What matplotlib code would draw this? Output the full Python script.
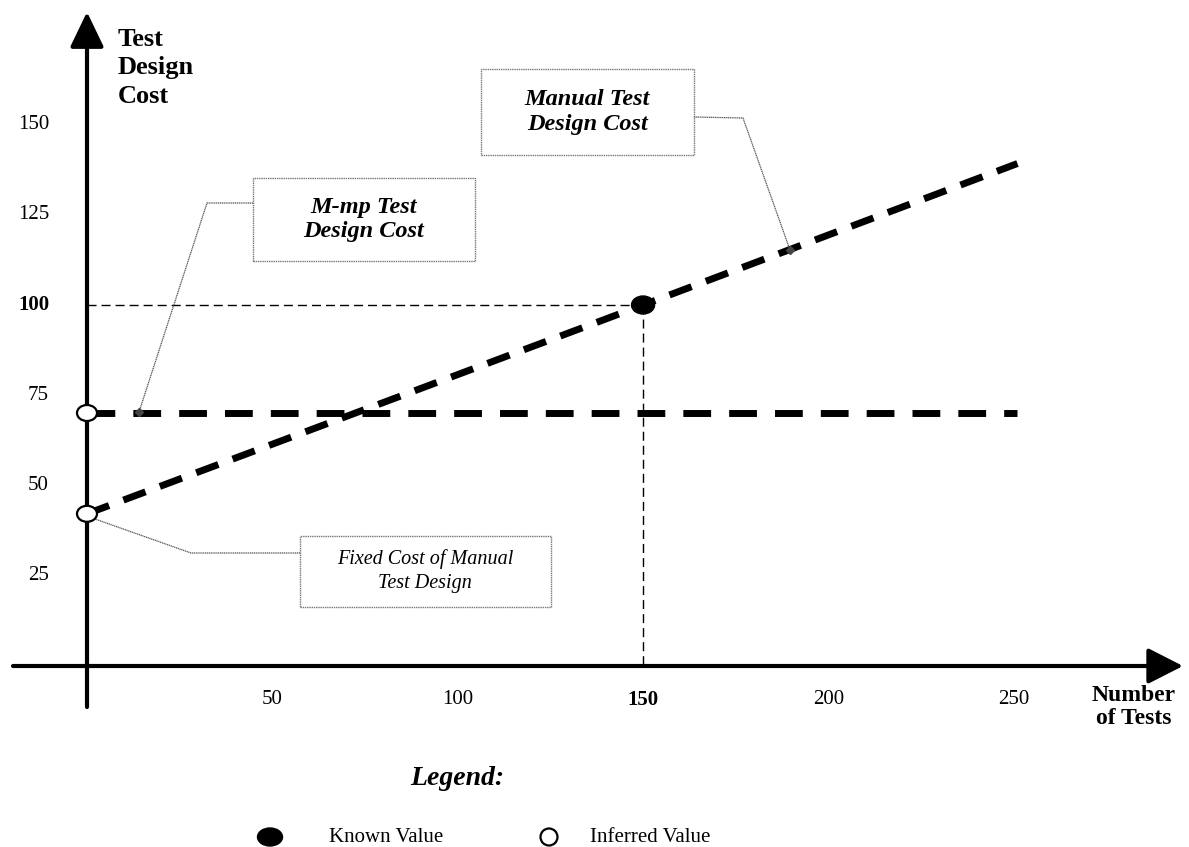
import matplotlib.pyplot as plt
from matplotlib.patches import Ellipse, Rectangle

plt.rcParams["font.family"] = ["Liberation Serif", "DejaVu Serif"]

# data
manual_x = [0, 150, 251]
manual_y = [42, 100, 139.3]
mmp_x = [0, 251]
mmp_y = [70, 70]
known_pt = (150, 100)
inferred_pts = [(0, 70), (0, 42)]

x_ticks = [50, 100, 150, 200, 250]
y_ticks = [25, 50, 75, 100, 125, 150]
x_bold = [150]
y_bold = [100]

# pixel scale of the original drawing
PX_X = 3.707
PX_Y = 3.6
X0_PX = 87
Y0_PX = 665
W, H = 1189, 847


def px(xp, yp):
    # pixel position -> data position
    return (xp - X0_PX) / PX_X, (Y0_PX - yp) / PX_Y


fig = plt.figure(figsize=(W / 100, H / 100), dpi=100)
ax = fig.add_axes([0, 0, 1, 1])
ax.set_xlim(px(0, 0)[0], px(W, 0)[0])
ax.set_ylim(px(0, H)[1], px(0, 0)[1])
ax.axis("off")

# axes with arrows
ax.annotate("", xy=px(1183, 666), xytext=px(13, 666),
            arrowprops=dict(arrowstyle="-|>,head_length=1.08,head_width=0.55",
                            lw=3, color="black", shrinkA=0, shrinkB=0,
                            mutation_scale=20))
ax.annotate("", xy=px(87, 12), xytext=px(87, 707),
            arrowprops=dict(arrowstyle="-|>,head_length=1.08,head_width=0.52",
                            lw=3, color="black", shrinkA=0, shrinkB=0,
                            mutation_scale=20))

# thin guide lines to the known value
ax.plot([0, known_pt[0]], [known_pt[1], known_pt[1]], color="black", lw=1.0,
        dashes=(6.5, 3.6), zorder=2)
ax.plot([known_pt[0], known_pt[0]], [known_pt[1], 0], color="black", lw=1.0,
        dashes=(6.5, 3.6), zorder=2)

# cost lines
ax.plot(manual_x, manual_y, color="black", lw=5, dashes=(3.4, 2.2),
        dash_capstyle="butt", zorder=3)
ax.plot(mmp_x, mmp_y, color="black", lw=5, dashes=(4.0, 2.6),
        dash_capstyle="butt", zorder=3)

# value markers
for (xv, yv) in inferred_pts:
    ax.add_patch(Ellipse((xv, yv), 20 / PX_X, 16 / PX_Y, facecolor="white",
                         edgecolor="black", lw=1.6, zorder=5))
ax.add_patch(Ellipse(known_pt, 23 / PX_X, 18 / PX_Y, facecolor="black",
                     edgecolor="black", lw=1, zorder=5))

# tick labels
for t in x_ticks:
    ax.text(t, px(0, 700)[1], str(t), ha="center", va="center", fontsize=15,
            fontweight="bold" if t in x_bold else "normal")
for t in y_ticks:
    ax.text(px(49, 0)[0], t, str(t), ha="right", va="center", fontsize=15,
            fontweight="bold" if t in y_bold else "normal")

# axis titles
ax.text(*px(118, 68), "Test\nDesign\nCost", ha="left", va="center",
        fontsize=19, fontweight="bold", linespacing=1.3)
ax.text(*px(1134, 707), "Number\nof Tests", ha="center", va="center",
        fontsize=17, fontweight="bold", linespacing=1.15)

# callout boxes
box_kw = dict(fill=False, edgecolor="#777777", lw=1.0, linestyle=(0, (1, 0.6)),
              zorder=4)
lead_kw = dict(color="#555555", lw=0.9, linestyle=(0, (1, 0.5)), zorder=4)


def callout(x0, y0, x1, y1, text, size, weight, path):
    a = px(x0, y1)
    b = px(x1, y0)
    ax.add_patch(Rectangle(a, b[0] - a[0], b[1] - a[1], **box_kw))
    c = px((x0 + x1) / 2, (y0 + y1) / 2)
    ax.text(c[0], c[1], text, ha="center", va="center", fontsize=size,
            fontweight=weight, style="italic", linespacing=1.2, zorder=6)
    pts = [px(*p) for p in path]
    ax.plot([p[0] for p in pts], [p[1] for p in pts], **lead_kw)
    ax.plot(pts[-1][0], pts[-1][1], marker="D", ms=4, color="#444444", zorder=6)


callout(481, 69, 694, 155, "Manual Test\nDesign Cost", 17.5, "bold",
        [(694, 117), (743, 118), (790, 250)])
callout(253, 178, 475, 261, "M-mp Test\nDesign Cost", 17.5, "bold",
        [(253, 203), (207, 203), (139, 412)])
ax.add_patch(Rectangle(px(300, 607), (551 - 300) / PX_X, (607 - 536) / PX_Y, **box_kw))
ax.text(*px(425, 571), "Fixed Cost of Manual\nTest Design", ha="center",
        va="center", fontsize=14.5, style="italic", linespacing=1.3, zorder=6)
fc = [px(*p) for p in [(300, 553), (191, 553), (95, 519)]]
ax.plot([p[0] for p in fc], [p[1] for p in fc], **lead_kw)

# legend
ax.text(*px(457, 778), "Legend:", ha="center", va="center", fontsize=20,
        fontweight="bold", style="italic")
ax.add_patch(Ellipse(px(270, 837), 25 / PX_X, 18 / PX_Y, facecolor="black",
                     edgecolor="black"))
ax.text(*px(329, 837), "Known Value", ha="left", va="center", fontsize=15)
ax.add_patch(Ellipse(px(549, 837), 17 / PX_X, 17 / PX_Y, facecolor="white",
                     edgecolor="black", lw=1.6))
ax.text(*px(590, 837), "Inferred Value", ha="left", va="center", fontsize=15)

fig.savefig("out.png", dpi=100)
